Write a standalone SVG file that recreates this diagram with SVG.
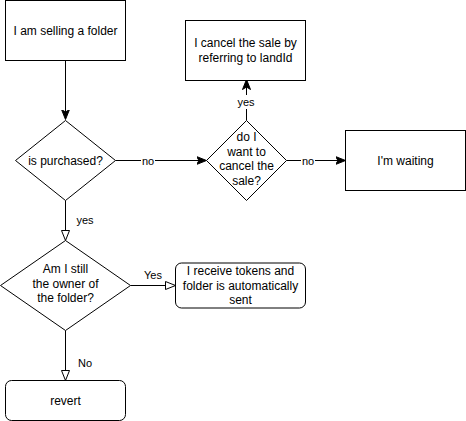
<svg xmlns="http://www.w3.org/2000/svg" width="466" height="421" viewBox="0 0 466 421">
<defs>
<marker id="classic" viewBox="0 0 10 10" refX="9" refY="5" markerWidth="10" markerHeight="10" markerUnits="userSpaceOnUse" orient="auto">
<path d="M0,1 L10,5 L0,9 L2.5,5 Z" fill="#000" stroke="#000" stroke-width="1"/>
</marker>
<marker id="open" viewBox="0 0 12 12" refX="11" refY="6" markerWidth="12" markerHeight="12" markerUnits="userSpaceOnUse" orient="auto">
<path d="M1,2 L11,6 L1,10 Z" fill="#fff" stroke="#000" stroke-width="1"/>
</marker>
<style>
.shape{fill:#fff;stroke:#000;stroke-width:1}
.t{font-family:"Liberation Sans",Arial,Helvetica,sans-serif;font-size:12px;fill:#000;text-anchor:middle;dominant-baseline:central}
.l{font-family:"Liberation Sans",Arial,Helvetica,sans-serif;font-size:11px;fill:#000;text-anchor:middle;dominant-baseline:central}
.e{fill:none;stroke:#000;stroke-width:1}
.bg{fill:#fff}
</style>
</defs>
<g id="connectors">
<path class="e" d="M65.5,60.5 V118.5" marker-end="url(#classic)"/>
<path class="e" d="M115.5,160.5 H205.5" marker-end="url(#classic)"/>
<rect class="bg" x="141" y="153" width="14" height="14"/>
<text class="l" x="148" y="160.5">no</text>
<path class="e" d="M246.5,120.5 V80.5" marker-end="url(#classic)"/>
<rect class="bg" x="236" y="95" width="21" height="14"/>
<text class="l" x="246" y="102">yes</text>
<path class="e" d="M286.5,160.5 H344.5" marker-end="url(#classic)"/>
<rect class="bg" x="301" y="153" width="14" height="14"/>
<text class="l" x="308" y="160.5">no</text>
<path class="e" d="M65.5,200.5 V240.5" marker-end="url(#open)"/>
<text class="l" x="85" y="220">yes</text>
<path class="e" d="M130.5,285.5 H175.5" marker-end="url(#open)"/>
<text class="l" x="153" y="275">Yes</text>
<path class="e" d="M65.5,330.5 V380.5" marker-end="url(#open)"/>
<text class="l" x="85" y="363">No</text>
</g>
<g id="start">
<rect class="shape" x="5.5" y="0.5" width="120" height="60"/>
<text class="t" x="65.5" y="30.5">I am selling a folder</text>
</g>
<g id="purchased">
<path class="shape" d="M65.5,120.5 L115.5,160.5 L65.5,200.5 L15.5,160.5 Z"/>
<text class="t" x="65.5" y="160.5">is purchased?</text>
</g>
<g id="cancelq">
<path class="shape" d="M246.5,120.5 L286.5,160.5 L246.5,200.5 L206.5,160.5 Z"/>
<text class="t" x="246.5" y="137">do I</text>
<text class="t" x="246.5" y="151.5">want to</text>
<text class="t" x="246.5" y="166">cancel the</text>
<text class="t" x="246.5" y="180.5">sale?</text>
</g>
<g id="cancel">
<rect class="shape" x="185.5" y="20.5" width="120" height="60"/>
<text class="t" x="245.5" y="43">I cancel the sale by</text>
<text class="t" x="245.5" y="57.5">referring to landId</text>
</g>
<g id="waiting">
<rect class="shape" x="345.5" y="130.5" width="120" height="60"/>
<text class="t" x="405.5" y="160.5">I'm waiting</text>
</g>
<g id="owner">
<path class="shape" d="M65.5,240.5 L130.5,285.5 L65.5,330.5 L0.5,285.5 Z"/>
<text class="t" x="65.5" y="269">Am I still</text>
<text class="t" x="65.5" y="283.5">the owner of</text>
<text class="t" x="65.5" y="298">the folder?</text>
</g>
<g id="receive">
<rect class="shape" x="175.5" y="263" width="130" height="45" rx="6" ry="6"/>
<text class="t" x="240.5" y="271">I receive tokens and</text>
<text class="t" x="240.5" y="285.5">folder is automatically</text>
<text class="t" x="240.5" y="300">sent</text>
</g>
<g id="revert">
<rect class="shape" x="5.5" y="380.5" width="120" height="40" rx="6" ry="6"/>
<text class="t" x="65.5" y="400.5">revert</text>
</g>
</svg>
